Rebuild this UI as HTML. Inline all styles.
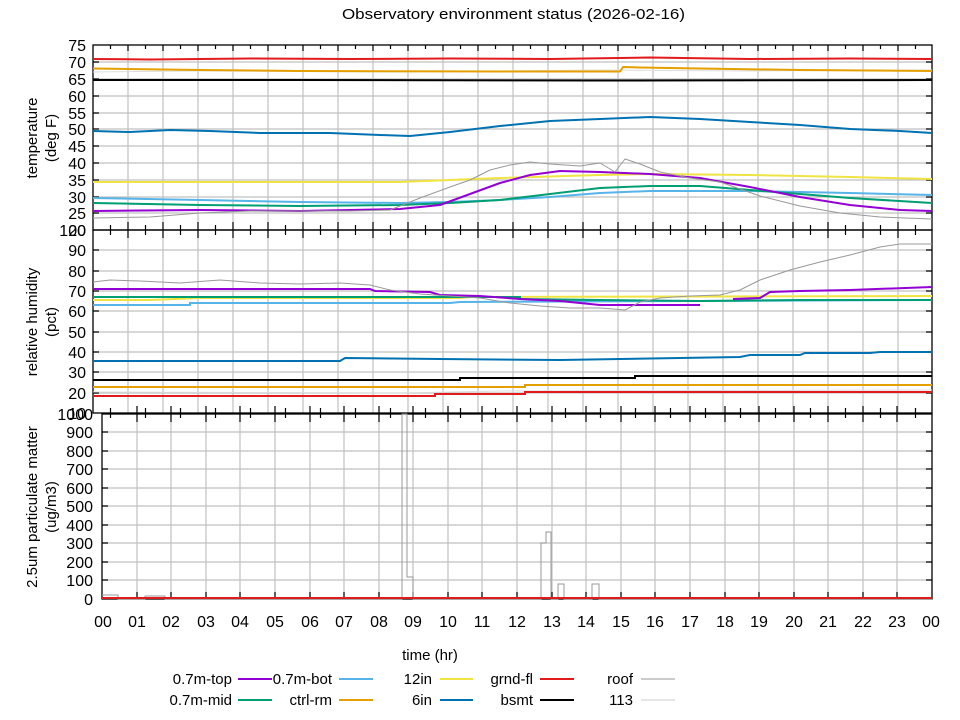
<!DOCTYPE html>
<html><head><meta charset="utf-8"><style>
html,body{margin:0;padding:0;background:#fff}
svg{display:block;font-family:"Liberation Sans","DejaVu Sans",sans-serif}
</style></head><body>
<svg width="960" height="720" viewBox="0 0 960 720" xmlns="http://www.w3.org/2000/svg">
<rect width="960" height="720" fill="#fff"/>
<text x="342" y="19" font-size="15" textLength="343" lengthAdjust="spacingAndGlyphs">Observatory environment status (2026-02-16)</text>

<g stroke="#c0c0c0" stroke-width="1.2">
<path d="M128 45V413M163 45V413M198 45V413M233 45V413M268 45V413M303 45V413M338 45V413M373 45V413M408 45V413M443 45V413M478 45V413M513 45V413M548 45V413M583 45V413M618 45V413M653 45V413M688 45V413M723 45V413M758 45V413M793 45V413M828 45V413M863 45V413M898 45V413"/>
<path d="M93 62H932M93 79H932M93 96H932M93 113H932M93 129H932M93 146H932M93 163H932M93 180H932M93 197H932M93 213H932"/>
<path d="M93 250H932M93 271H932M93 291H932M93 311H932M93 332H932M93 352H932M93 372H932M93 393H932"/>
<path d="M137 414V599M171 414V599M206 414V599M240 414V599M275 414V599M310 414V599M344 414V599M379 414V599M413 414V599M448 414V599M482 414V599M517 414V599M552 414V599M586 414V599M621 414V599M655 414V599M690 414V599M725 414V599M759 414V599M794 414V599M828 414V599M863 414V599M897 414V599"/>
<path d="M102 432H932M102 451H932M102 469H932M102 488H932M102 506H932M102 525H932M102 543H932M102 562H932M102 580H932"/>
</g>

<g fill="none" stroke="#000" stroke-width="1.3">
<rect x="93" y="45" width="839" height="185"/>
<rect x="93" y="230" width="839" height="183"/>
<rect x="102" y="414" width="830" height="185"/>
</g>
<g stroke="#000" stroke-width="1.2">
<path d="M128 45v6M163 45v6M198 45v6M233 45v6M268 45v6M303 45v6M338 45v6M373 45v6M408 45v6M443 45v6M478 45v6M513 45v6M548 45v6M583 45v6M618 45v6M653 45v6M688 45v6M723 45v6M758 45v6M793 45v6M828 45v6M863 45v6M898 45v6"/>
<path d="M110.5 45v4M145.5 45v4M180.5 45v4M215.5 45v4M250.5 45v4M285.5 45v4M320.5 45v4M355.5 45v4M390.5 45v4M425.5 45v4M460.5 45v4M495.5 45v4M530.5 45v4M565.5 45v4M600.5 45v4M635.5 45v4M670.5 45v4M705.5 45v4M740.5 45v4M775.5 45v4M810.5 45v4M845.5 45v4M880.5 45v4M915.5 45v4"/>
<path d="M128 222v16M163 222v16M198 222v16M233 222v16M268 222v16M303 222v16M338 222v16M373 222v16M408 222v16M443 222v16M478 222v16M513 222v16M548 222v16M583 222v16M618 222v16M653 222v16M688 222v16M723 222v16M758 222v16M793 222v16M828 222v16M863 222v16M898 222v16"/>
<path d="M110.5 225v10M145.5 225v10M180.5 225v10M215.5 225v10M250.5 225v10M285.5 225v10M320.5 225v10M355.5 225v10M390.5 225v10M425.5 225v10M460.5 225v10M495.5 225v10M530.5 225v10M565.5 225v10M600.5 225v10M635.5 225v10M670.5 225v10M705.5 225v10M740.5 225v10M775.5 225v10M810.5 225v10M845.5 225v10M880.5 225v10M915.5 225v10"/>
<path d="M137 406v16M171 406v16M206 406v16M240 406v16M275 406v16M310 406v16M344 406v16M379 406v16M413 406v16M448 406v16M482 406v16M517 406v16M552 406v16M586 406v16M621 406v16M655 406v16M690 406v16M725 406v16M759 406v16M794 406v16M828 406v16M863 406v16M897 406v16"/>
<path d="M110.5 408v10M145.5 408v10M180.5 408v10M215.5 408v10M250.5 408v10M285.5 408v10M320.5 408v10M355.5 408v10M390.5 408v10M425.5 408v10M460.5 408v10M495.5 408v10M530.5 408v10M565.5 408v10M600.5 408v10M635.5 408v10M670.5 408v10M705.5 408v10M740.5 408v10M775.5 408v10M810.5 408v10M845.5 408v10M880.5 408v10M915.5 408v10"/>
<path d="M137 599v-7M171 599v-7M206 599v-7M240 599v-7M275 599v-7M310 599v-7M344 599v-7M379 599v-7M413 599v-7M448 599v-7M482 599v-7M517 599v-7M552 599v-7M586 599v-7M621 599v-7M655 599v-7M690 599v-7M725 599v-7M759 599v-7M794 599v-7M828 599v-7M863 599v-7M897 599v-7"/>
<path d="M93 62h6M93 79h6M93 96h6M93 113h6M93 129h6M93 146h6M93 163h6M93 180h6M93 197h6M93 213h6M932 62h-6M932 79h-6M932 96h-6M932 113h-6M932 129h-6M932 146h-6M932 163h-6M932 180h-6M932 197h-6M932 213h-6"/>
<path d="M93 250h6M93 271h6M93 291h6M93 311h6M93 332h6M93 352h6M93 372h6M93 393h6M932 250h-6M932 271h-6M932 291h-6M932 311h-6M932 332h-6M932 352h-6M932 372h-6M932 393h-6"/>
<path d="M102 432h6M102 451h6M102 469h6M102 488h6M102 506h6M102 525h6M102 543h6M102 562h6M102 580h6M932 432h-6M932 451h-6M932 469h-6M932 488h-6M932 506h-6M932 525h-6M932 543h-6M932 562h-6M932 580h-6"/>
</g>

<g font-size="16" text-anchor="end">
<text x="86" y="51">75</text><text x="86" y="68">70</text><text x="86" y="85">65</text><text x="86" y="102">60</text><text x="86" y="119">55</text><text x="86" y="135">50</text><text x="86" y="152">45</text><text x="86" y="169">40</text><text x="86" y="186">35</text><text x="86" y="203">30</text><text x="86" y="219">25</text><text x="86" y="236">20</text>
<text x="86" y="236">100</text><text x="86" y="256">90</text><text x="86" y="277">80</text><text x="86" y="297">70</text><text x="86" y="317">60</text><text x="86" y="338">50</text><text x="86" y="358">40</text><text x="86" y="378">30</text><text x="86" y="399">20</text><text x="86" y="419">10</text>
<text x="93" y="420">1000</text><text x="93" y="438">900</text><text x="93" y="457">800</text><text x="93" y="475">700</text><text x="93" y="494">600</text><text x="93" y="512">500</text><text x="93" y="531">400</text><text x="93" y="549">300</text><text x="93" y="568">200</text><text x="93" y="586">100</text><text x="93" y="605">0</text>
</g>
<g font-size="16" text-anchor="middle">
<text x="103" y="627">00</text><text x="137" y="627">01</text><text x="171" y="627">02</text><text x="206" y="627">03</text><text x="240" y="627">04</text><text x="275" y="627">05</text><text x="310" y="627">06</text><text x="344" y="627">07</text><text x="379" y="627">08</text><text x="413" y="627">09</text><text x="448" y="627">10</text><text x="482" y="627">11</text><text x="517" y="627">12</text><text x="552" y="627">13</text><text x="586" y="627">14</text><text x="621" y="627">15</text><text x="655" y="627">16</text><text x="690" y="627">17</text><text x="725" y="627">18</text><text x="759" y="627">19</text><text x="794" y="627">20</text><text x="828" y="627">21</text><text x="863" y="627">22</text><text x="897" y="627">23</text><text x="931" y="627">00</text>
</g>
<g font-size="15" text-anchor="middle">
<text transform="translate(37,138) rotate(-90)">temperature</text>
<text transform="translate(56,138) rotate(-90)">(deg F)</text>
<text transform="translate(37,322) rotate(-90)">relative humidity</text>
<text transform="translate(56,322) rotate(-90)">(pct)</text>
<text transform="translate(37,507) rotate(-90)">2.5um particulate matter</text>
<text transform="translate(56,507) rotate(-90)">(ug/m3)</text>
<text x="430" y="660">time (hr)</text>
</g>

<g fill="none" stroke-width="2" stroke-linejoin="round">
<polyline stroke="#dddddd" stroke-width="1" points="93,72 200,71 400,72 600,70 750,71 932,70"/>
<polyline stroke="#e31a1c" points="93,59 150,59.5 250,58.5 350,59 450,58.5 550,59 650,57.5 750,59 850,58.5 932,59"/>
<polyline stroke="#e69f00" points="93,68.5 200,70 300,71 500,71.5 620,71.5 623,67 640,67.5 700,68.5 800,70 932,71"/>
<polyline stroke="#000" points="93,80 300,80 600,80.5 932,80"/>
<polyline stroke="#0072b2" points="93,131 130,132 170,130 210,131 260,133 330,133 380,135 410,136 450,132 500,126 550,121 600,119 650,117 700,119 750,122 800,125 850,129 900,131 932,133"/>
<polyline stroke="#f0e442" points="93,182 400,182 450,180 500,178 600,175 650,174 750,175 850,177 932,179"/>
<polyline stroke="#56b4e9" points="93,198 200,200 300,202 400,203 450,202 500,200 550,197 600,193 650,191 750,191 850,193 932,195"/>
<polyline stroke="#009e73" points="93,203 200,205 300,206 400,205 450,203 500,200 550,194 600,188 650,186 700,186 750,190 800,194 850,198 932,203"/>
<polyline stroke="#9400d3" points="93,211 200,210 300,211 400,209 440,205 470,194 500,183 530,175 560,171 600,172 650,174 700,178 750,187 800,197 850,205 900,210 932,211"/>
<polyline stroke="#999" stroke-width="1" points="93,218 150,217 200,213 250,211 300,211 350,211 390,210 420,198 450,187 470,180 490,170 510,165 530,162 550,164 580,166 600,163 615,172 625,159 640,164 660,172 690,178 720,182 760,196 800,206 840,213 880,217 932,219"/>
</g>

<g fill="none" stroke-width="2">
<polyline stroke="#dddddd" stroke-width="1" points="93,392 400,393 500,391 932,390"/>
<polyline stroke="#e31a1c" points="93,396 435,396 435,394 525,394 525,392 932,392"/>
<polyline stroke="#e69f00" points="93,387 525,387 525,385 932,385"/>
<polyline stroke="#000" points="93,380 460,380 460,378 635,378 635,376 932,376"/>
<polyline stroke="#0072b2" points="93,361 340,361 345,358 440,359 560,360 620,359 740,357 750,355 800,355 805,353 870,353 880,352 932,352"/>
<polyline stroke="#56b4e9" points="93,305 190,305 190,303 450,303 460,302 932,300"/>
<polyline stroke="#f0e442" points="93,300 150,300 200,298 300,298 400,298 460,298 470,297 932,296"/>
<polyline stroke="#009e73" points="93,297 520,297 520,299 600,300 700,301 800,300 932,300"/>
<path stroke="#9400d3" d="M93 289L370 289 375 291 430 292 440 295 480 296 520 299 560 301 600 305 700 305M733 299L760 298 770 292 800 291 850 290 932 287"/>
<polyline stroke="#999" stroke-width="1" points="93,282 110,280 140,281 180,283 220,280 260,283 300,284 340,283 370,285 390,290 420,294 450,296 480,298 510,303 540,306 570,308 600,308 625,310 640,302 660,298 690,296 720,295 740,290 760,280 790,270 820,262 850,255 880,247 900,244 932,244"/>
</g>

<g fill="none">
<polyline stroke="#999" stroke-width="1" points="102,595 118,595 118,599 145,599 145,596 165,596 165,599 402,599 402,414 407,414 407,577 413,577 413,599 541,599 541,543 546,543 546,532 551,532 551,599 558,599 558,584 564,584 564,599 592,599 592,584 599,584 599,599 932,599"/>
<polyline stroke="#e31a1c" stroke-width="2" points="102,598 932,598"/>
</g>

<g font-size="15" text-anchor="end">
<text x="232" y="684">0.7m-top</text><text x="232" y="705">0.7m-mid</text>
<text x="332" y="684">0.7m-bot</text><text x="332" y="705">ctrl-rm</text>
<text x="432" y="684">12in</text><text x="432" y="705">6in</text>
<text x="533" y="684">grnd-fl</text><text x="533" y="705">bsmt</text>
<text x="633" y="684">roof</text><text x="633" y="705">113</text>
</g>
<g stroke-width="2">
<path stroke="#9400d3" d="M238 679h34"/><path stroke="#009e73" d="M238 700h34"/>
<path stroke="#56b4e9" d="M339 679h34"/><path stroke="#e69f00" d="M339 700h34"/>
<path stroke="#f0e442" d="M440 679h33"/><path stroke="#0072b2" d="M440 700h33"/>
<path stroke="#e31a1c" d="M540 679h34"/><path stroke="#000" d="M540 700h34"/>
<path stroke="#999" stroke-width="1" d="M641 679h34"/><path stroke="#ccc" stroke-width="1" d="M641 700h34"/>
</g>
</svg>
</body></html>
